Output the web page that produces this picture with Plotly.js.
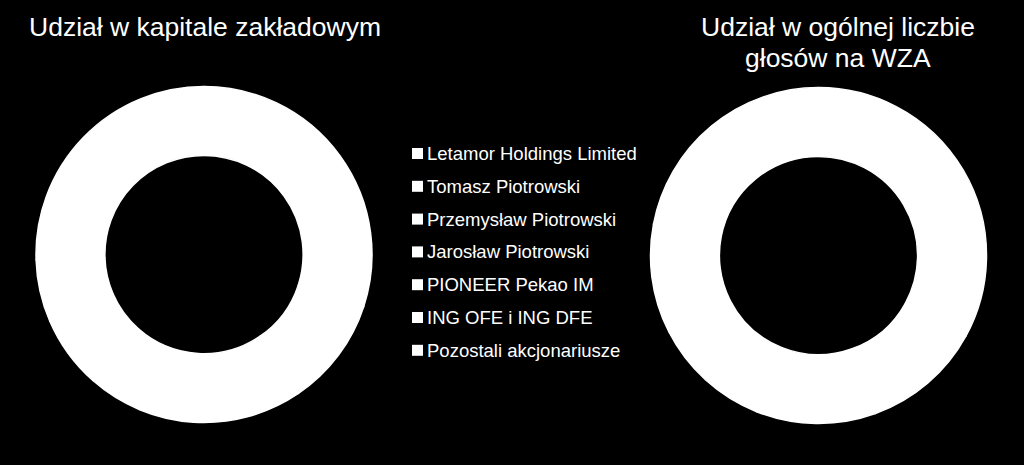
<!DOCTYPE html>
<html>
<head>
<meta charset="utf-8">
<script src="https://cdn.plot.ly/plotly-3.0.1.min.js"></script>
<style>
  html, body { margin: 0; padding: 0; background: #000; }
  #plotDiv { width: 1024px; height: 465px; }
</style>
</head>
<body>
<div id="plotDiv"></div>
<script>
/* =========================
   Shareholder donuts
========================= */

const W = 1024;
const H = 465;

const shareholders = [
    'Letamor Holdings Limited',
    'Tomasz Piotrowski',
    'Przemysław Piotrowski',
    'Jarosław Piotrowski',
    'PIONEER Pekao IM',
    'ING OFE i ING DFE',
    'Pozostali akcjonariusze'
];
// slices are all white in the picture, so shares are estimates
const capitalShare = [30.0, 10.5, 10.5, 10.5, 7.0, 6.0, 25.5];
const votesShare = [33.0, 11.5, 11.5, 11.5, 5.5, 5.0, 22.0];

const titleCapital = ['Udział w kapitale zakładowym'];
const titleVotes = ['Udział w ogólnej liczbie', 'głosów na WZA'];

const FONT = "'Liberation Sans', Arial, sans-serif";

// px (from top-left) -> paper
const px = x => x / W;
const py = y => 1 - y / H;

function donut(values, cx, cy, r) {
    return {
        type: 'pie',
        labels: shareholders,
        values,
        hole: 0.59,
        sort: false,
        direction: 'clockwise',
        textinfo: 'none',
        hoverinfo: 'skip',
        showlegend: false,
        // white edges hide the seams between the white slices
        marker: { colors: shareholders.map(() => '#ffffff'), line: { width: 1.5, color: '#ffffff' } },
        domain: { x: [px(cx - r), px(cx + r)], y: [py(cy + r), py(cy - r)] }
    };
}

const data = [
    donut(capitalShare, 204, 254.5, 168),
    donut(votesShare, 818.5, 255.5, 168)
];

// hand-made legend: one row per shareholder
const ROW0 = 153.5;
const ROW_STEP = 32.8;
const annotations = shareholders.map((name, i) => ({
    xref: 'paper', yref: 'paper',
    x: px(425), y: py(ROW0 + i * ROW_STEP),
    xanchor: 'left', yanchor: 'middle',
    text: name, showarrow: false,
    font: { family: FONT, size: 18.5, color: '#ffffff' }
}));
const shapes = shareholders.map((name, i) => ({
    type: 'rect', xref: 'paper', yref: 'paper',
    x0: px(412), x1: px(423),
    y0: py(ROW0 + i * ROW_STEP + 5.5), y1: py(ROW0 + i * ROW_STEP - 5.5),
    fillcolor: '#ffffff', line: { width: 0 }
}));

// titles, one annotation per line (the reference lines sit ~31px apart)
function titleLines(lines, cx, y0) {
    return lines.map((line, i) => ({
        xref: 'paper', yref: 'paper', x: px(cx), y: py(y0 + i * 31),
        xanchor: 'center', yanchor: 'middle', showarrow: false,
        text: line, font: { family: FONT, size: 26.5, color: '#ffffff' }
    }));
}
annotations.push(...titleLines(titleCapital, 205, 27), ...titleLines(titleVotes, 838, 27));

const layout = {
    width: W,
    height: H,
    margin: { l: 0, r: 0, t: 0, b: 0 },
    paper_bgcolor: '#000000',
    plot_bgcolor: '#000000',
    showlegend: false,
    annotations,
    shapes
};

Plotly.newPlot('plotDiv', data, layout, { displayModeBar: false, staticPlot: true });
</script>
</body>
</html>
